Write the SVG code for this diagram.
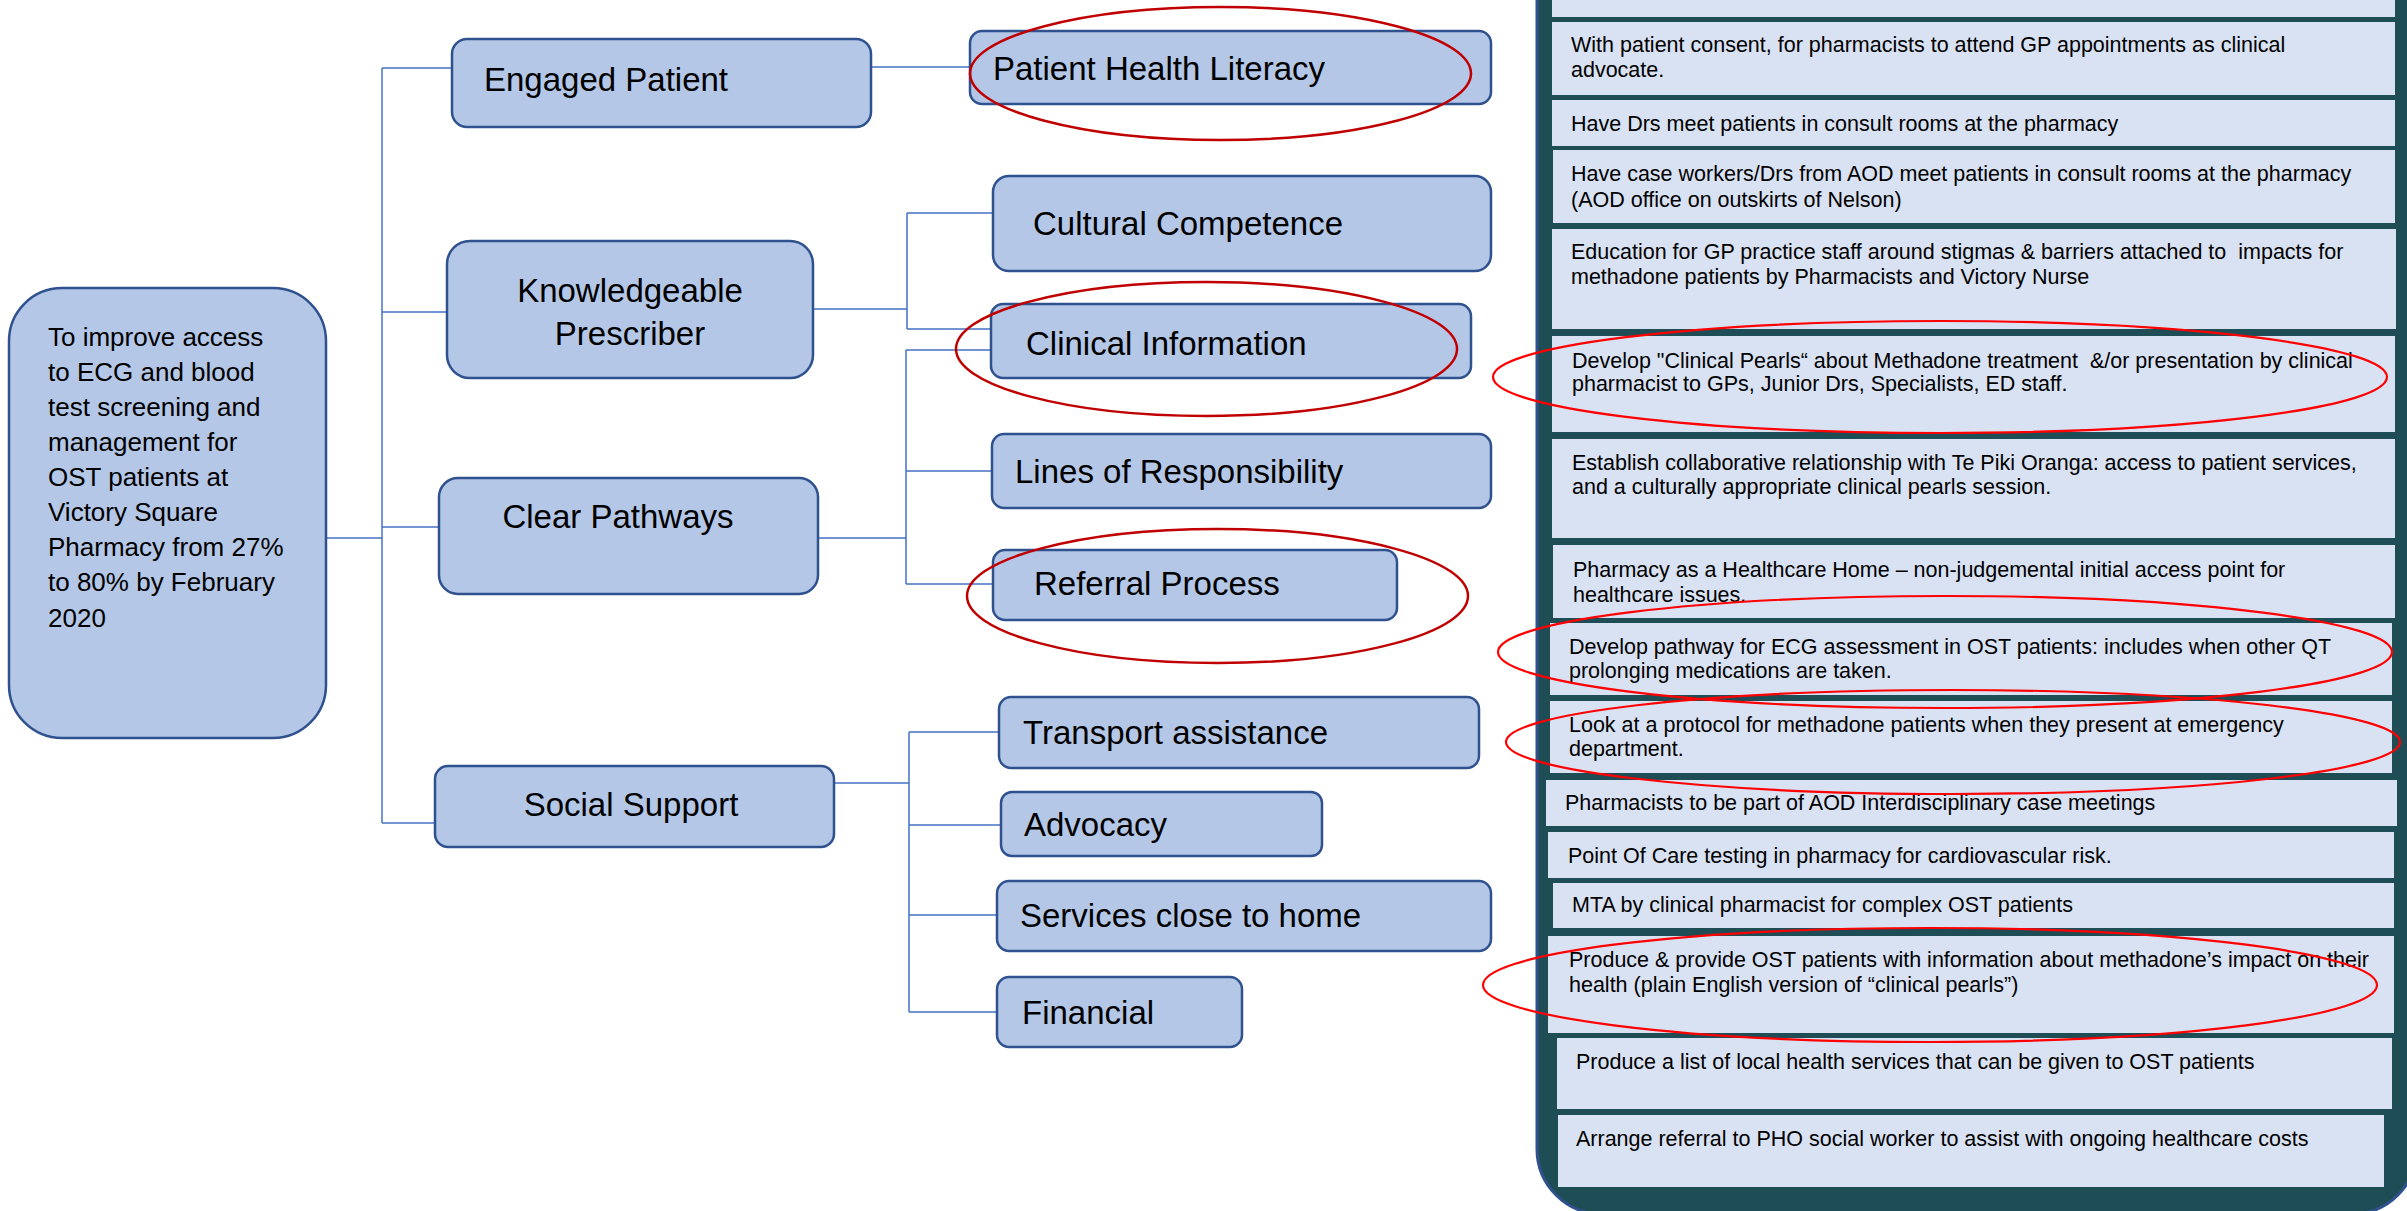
<svg xmlns="http://www.w3.org/2000/svg" width="2407" height="1211" viewBox="0 0 2407 1211">
  <style>
    .node { fill: #B4C7E7; stroke: #2F528F; stroke-width: 2.5; }
    .lbl { font-family: "Liberation Sans", Arial, sans-serif; font-size: 33px; fill: #000; }
    .goal { font-family: "Liberation Sans", Arial, sans-serif; font-size: 26px; fill: #000; }
    .wire { fill: none; stroke: #4472C4; stroke-width: 1.5; }
    .panel { fill: #1F4D55; stroke: #2F528F; stroke-width: 3; }
    .item { fill: #D9E2F3; }
    .itxt { font-family: "Liberation Sans", Arial, sans-serif; font-size: 21.5px; fill: #000; }
    .mark { fill: none; stroke: #C00000; stroke-width: 2.5; }
    .mark2 { fill: none; stroke: #FF0000; stroke-width: 2.2; }
  </style>

  <rect width="2407" height="1211" fill="#FFFFFF"/>

  <!-- connectors -->
  <g id="connectors" class="wire">
    <path d="M326 538 H382"/>
    <path d="M382 68 V823"/>
    <path d="M382 68 H452"/>
    <path d="M382 312 H447"/>
    <path d="M382 527 H439"/>
    <path d="M382 823 H435"/>
    <path d="M871 67 H970"/>
    <path d="M813 309 H907 M907 213 V329 M907 213 H993 M907 329 H991"/>
    <path d="M818 538 H906 M906 350 V584 M906 350 H991 M906 471 H992 M906 584 H993"/>
    <path d="M834 783 H909 M909 732 V1012 M909 732 H999 M909 825 H1001 M909 915 H997 M909 1012 H997"/>
  </g>

  <!-- goal -->
  <g id="goal">
    <rect class="node" x="9" y="288" width="317" height="450" rx="53"/>
    <text class="goal" x="48" y="346">To improve access</text>
    <text class="goal" x="48" y="381">to ECG and blood</text>
    <text class="goal" x="48" y="416">test screening and</text>
    <text class="goal" x="48" y="451">management for</text>
    <text class="goal" x="48" y="486">OST patients at</text>
    <text class="goal" x="48" y="521">Victory Square</text>
    <text class="goal" x="48" y="556">Pharmacy from 27%</text>
    <text class="goal" x="48" y="591">to 80% by February</text>
    <text class="goal" x="48" y="627">2020</text>
  </g>

  <!-- primary drivers -->
  <g id="engaged-patient">
    <rect class="node" x="452" y="39" width="419" height="88" rx="15"/>
    <text class="lbl" x="484" y="91">Engaged Patient</text>
  </g>
  <g id="knowledgeable-prescriber">
    <rect class="node" x="447" y="241" width="366" height="137" rx="23"/>
    <text class="lbl" x="630" y="302" text-anchor="middle">Knowledgeable</text>
    <text class="lbl" x="630" y="345" text-anchor="middle">Prescriber</text>
  </g>
  <g id="clear-pathways">
    <rect class="node" x="439" y="478" width="379" height="116" rx="19"/>
    <text class="lbl" x="618" y="528" text-anchor="middle">Clear Pathways</text>
  </g>
  <g id="social-support">
    <rect class="node" x="435" y="766" width="399" height="81" rx="13"/>
    <text class="lbl" x="631" y="816" text-anchor="middle">Social Support</text>
  </g>

  <!-- secondary drivers -->
  <g id="patient-health-literacy">
    <rect class="node" x="970" y="31" width="521" height="73" rx="12"/>
    <text class="lbl" x="993" y="80">Patient Health Literacy</text>
  </g>
  <g id="cultural-competence">
    <rect class="node" x="993" y="176" width="498" height="95" rx="16"/>
    <text class="lbl" x="1033" y="235">Cultural Competence</text>
  </g>
  <g id="clinical-information">
    <rect class="node" x="991" y="304" width="480" height="74" rx="12"/>
    <text class="lbl" x="1026" y="355">Clinical Information</text>
  </g>
  <g id="lines-of-responsibility">
    <rect class="node" x="992" y="434" width="499" height="74" rx="12"/>
    <text class="lbl" x="1015" y="483">Lines of Responsibility</text>
  </g>
  <g id="referral-process">
    <rect class="node" x="993" y="550" width="404" height="70" rx="12"/>
    <text class="lbl" x="1034" y="595">Referral Process</text>
  </g>
  <g id="transport-assistance">
    <rect class="node" x="999" y="697" width="480" height="71" rx="12"/>
    <text class="lbl" x="1023" y="744">Transport assistance</text>
  </g>
  <g id="advocacy">
    <rect class="node" x="1001" y="792" width="321" height="64" rx="11"/>
    <text class="lbl" x="1024" y="836">Advocacy</text>
  </g>
  <g id="services-close-to-home">
    <rect class="node" x="997" y="881" width="494" height="70" rx="12"/>
    <text class="lbl" x="1020" y="927">Services close to home</text>
  </g>
  <g id="financial">
    <rect class="node" x="997" y="977" width="245" height="70" rx="12"/>
    <text class="lbl" x="1022" y="1024">Financial</text>
  </g>

  <!-- change ideas panel -->
  <g id="change-ideas">
    <rect class="panel" x="1537" y="-80" width="880" height="1294" rx="65"/>
    <rect class="item" x="1552" y="-5" width="843" height="22"/>

    <g id="idea-gp-advocate">
      <rect class="item" x="1552" y="22" width="843" height="73"/>
      <text class="itxt" x="1571" y="52">With patient consent, for pharmacists to attend GP appointments as clinical</text>
      <text class="itxt" x="1571" y="77">advocate.</text>
    </g>
    <g id="idea-drs-consult">
      <rect class="item" x="1552" y="100" width="843" height="46"/>
      <text class="itxt" x="1571" y="131">Have Drs meet patients in consult rooms at the pharmacy</text>
    </g>
    <g id="idea-aod-consult">
      <rect class="item" x="1553" y="150" width="842" height="73"/>
      <text class="itxt" x="1571" y="181">Have case workers/Drs from AOD meet patients in consult rooms at the pharmacy</text>
      <text class="itxt" x="1571" y="207">(AOD office on outskirts of Nelson)</text>
    </g>
    <g id="idea-gp-education">
      <rect class="item" x="1552" y="229" width="844" height="100"/>
      <text class="itxt" x="1571" y="259" xml:space="preserve">Education for GP practice staff around stigmas &amp; barriers attached to  impacts for</text>
      <text class="itxt" x="1571" y="284">methadone patients by Pharmacists and Victory Nurse</text>
    </g>
    <g id="idea-clinical-pearls">
      <rect class="item" x="1552" y="336" width="843" height="96"/>
      <text class="itxt" x="1572" y="368" xml:space="preserve">Develop "Clinical Pearls“ about Methadone treatment  &amp;/or presentation by clinical</text>
      <text class="itxt" x="1572" y="391">pharmacist to GPs, Junior Drs, Specialists, ED staff.</text>
    </g>
    <g id="idea-te-piki-oranga">
      <rect class="item" x="1552" y="439" width="843" height="99"/>
      <text class="itxt" x="1572" y="470">Establish collaborative relationship with Te Piki Oranga: access to patient services,</text>
      <text class="itxt" x="1572" y="494">and a culturally appropriate clinical pearls session.</text>
    </g>
    <g id="idea-healthcare-home">
      <rect class="item" x="1553" y="545" width="842" height="73"/>
      <text class="itxt" x="1573" y="577">Pharmacy as a Healthcare Home – non-judgemental initial access point for</text>
      <text class="itxt" x="1573" y="602">healthcare issues.</text>
    </g>
    <g id="idea-ecg-pathway">
      <rect class="item" x="1550" y="623" width="842" height="72"/>
      <text class="itxt" x="1569" y="654">Develop pathway for ECG assessment in OST patients: includes when other QT</text>
      <text class="itxt" x="1569" y="678">prolonging medications are taken.</text>
    </g>
    <g id="idea-ed-protocol">
      <rect class="item" x="1550" y="701" width="842" height="72"/>
      <text class="itxt" x="1569" y="732">Look at a protocol for methadone patients when they present at emergency</text>
      <text class="itxt" x="1569" y="756">department.</text>
    </g>
    <g id="idea-aod-meetings">
      <rect class="item" x="1546" y="780" width="851" height="46"/>
      <text class="itxt" x="1565" y="810">Pharmacists to be part of AOD Interdisciplinary case meetings</text>
    </g>
    <g id="idea-poc-testing">
      <rect class="item" x="1548" y="832" width="846" height="46"/>
      <text class="itxt" x="1568" y="863">Point Of Care testing in pharmacy for cardiovascular risk.</text>
    </g>
    <g id="idea-mta">
      <rect class="item" x="1553" y="883" width="841" height="45"/>
      <text class="itxt" x="1572" y="912">MTA by clinical pharmacist for complex OST patients</text>
    </g>
    <g id="idea-patient-info">
      <rect class="item" x="1548" y="936" width="846" height="97"/>
      <text class="itxt" x="1569" y="967">Produce &amp; provide OST patients with information about methadone’s impact on their</text>
      <text class="itxt" x="1569" y="992">health (plain English version of “clinical pearls”)</text>
    </g>
    <g id="idea-local-services">
      <rect class="item" x="1557" y="1038" width="835" height="71"/>
      <text class="itxt" x="1576" y="1069">Produce a list of local health services that can be given to OST patients</text>
    </g>
    <g id="idea-pho-referral">
      <rect class="item" x="1558" y="1115" width="826" height="72"/>
      <text class="itxt" x="1576" y="1146">Arrange referral to PHO social worker to assist with ongoing healthcare costs</text>
    </g>
  </g>

  <!-- priority highlights -->
  <g id="highlights">
    <ellipse class="mark" cx="1220.5" cy="73.5" rx="250.5" ry="66.5"/>
    <ellipse class="mark" cx="1206.5" cy="349" rx="250.5" ry="67"/>
    <ellipse class="mark" cx="1217.5" cy="596" rx="250.5" ry="67"/>
    <ellipse class="mark2" cx="1940" cy="377" rx="447" ry="56"/>
    <ellipse class="mark2" cx="1945" cy="652" rx="447" ry="56"/>
    <ellipse class="mark2" cx="1953" cy="742" rx="447" ry="52"/>
    <ellipse class="mark2" cx="1930" cy="985" rx="447" ry="57"/>
  </g>
</svg>
